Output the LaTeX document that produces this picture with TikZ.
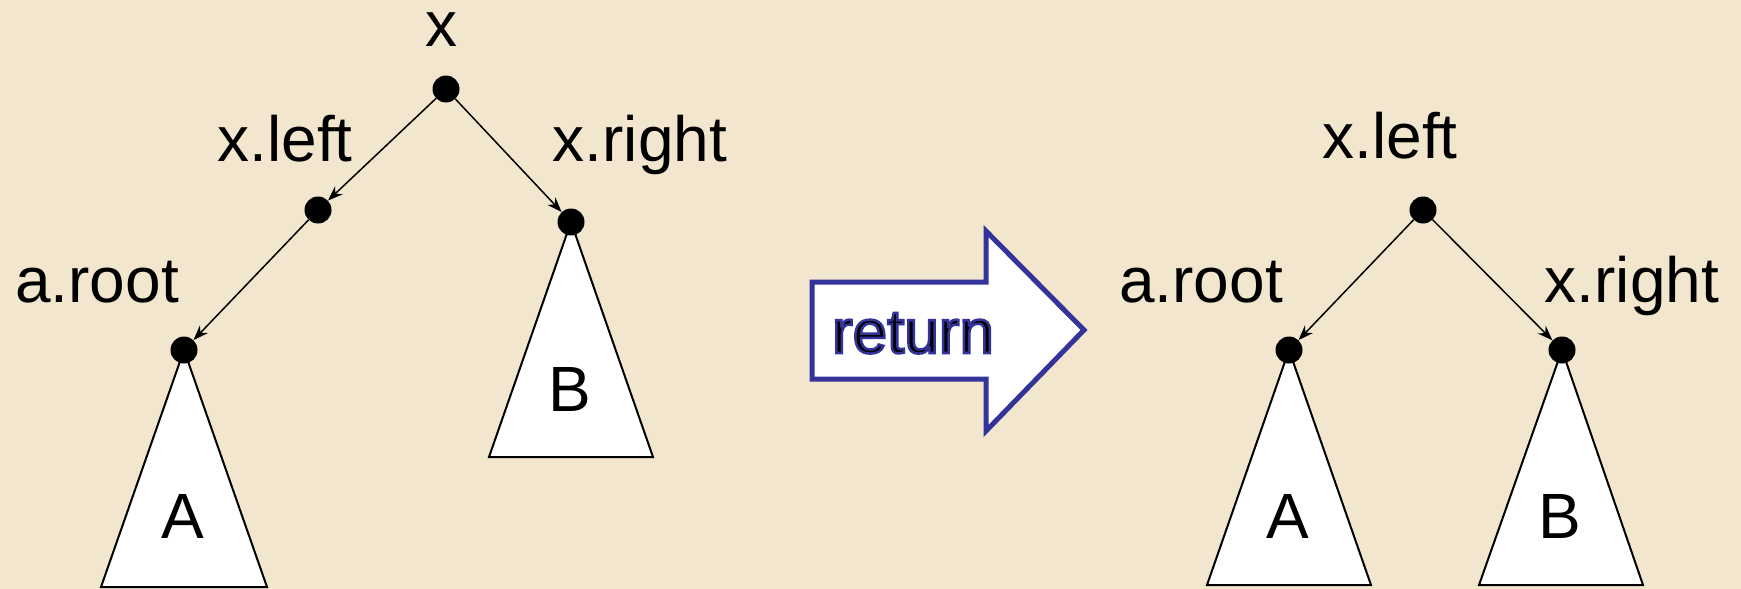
\documentclass[tikz,border=0pt]{standalone}
\usepackage{fontspec}
\setmainfont{Liberation Sans}
\usetikzlibrary{arrows.meta}
\definecolor{bg}{HTML}{F2E7CE}
\definecolor{arrowblue}{HTML}{333399}
\begin{document}
\begin{tikzpicture}[x=1pt,y=-1pt,
  dot/.style={circle,fill=black,draw=none,inner sep=0pt,minimum size=27pt},
  lbl/.style={anchor=base,inner sep=0pt,font=\fontsize{64}{70}\selectfont},
  tri/.style={fill=white,draw=black,line width=2pt,line join=miter},
  ptr/.style={-{Stealth[length=15pt,width=11pt]},line width=1.5pt}]
\fill[bg] (0,0) rectangle (1741,589);
\useasboundingbox (0,0) rectangle (1741,589);
% left tree triangles
\draw[tri] (184,350) -- (267,587) -- (101,587) -- cycle;
\draw[tri] (571,222) -- (653,457) -- (489,457) -- cycle;
% right tree triangles
\draw[tri] (1289,350) -- (1371,585) -- (1207,585) -- cycle;
\draw[tri] (1562,350) -- (1643,585) -- (1479,585) -- cycle;
% left tree dots
\node[dot] (r) at (446,89) {};
\node[dot] (xl) at (318,210) {};
\node[dot] (xr) at (571,222) {};
\node[dot] (ar) at (184,350) {};
% right tree dots
\node[dot] (r2) at (1423,210) {};
\node[dot] (ar2) at (1289,350) {};
\node[dot] (xr2) at (1562,350) {};
% connectors
\draw[ptr] (r) -- (xl);
\draw[ptr] (r) -- (xr);
\draw[ptr] (xl) -- (ar);
\draw[ptr] (r2) -- (ar2);
\draw[ptr] (r2) -- (xr2);
% labels left
\node[lbl] (tx) at (441,46) {x};
\node[lbl] (txl) at (285,161) {x.left};
\node[lbl] (txr) at (640,161) {x.right};
\node[lbl] (tar) at (97,302) {a.root};
\node[lbl] (tA) at (183,538) {A};
\node[lbl] (tB) at (570,411) {B};
% labels right
\node[lbl] (txl2) at (1390,158) {x.left};
\node[lbl] (tar2) at (1201,302) {a.root};
\node[lbl] (txr2) at (1632,302) {x.right};
\node[lbl] (tA2) at (1288,538) {A};
\node[lbl] (tB2) at (1560,538) {B};
% return arrow
\draw[fill=white,draw=arrowblue,line width=5pt,line join=miter]
  (812,282) -- (986,282) -- (986,231) -- (1084,330) -- (986,431) -- (986,379) -- (812,379) -- cycle;
\node[anchor=base,inner sep=0pt,font=\fontsize{62}{68}\selectfont,text=black] (ret) at (913,353)
  {\special{pdf:literal direct 2 Tr 0.2 0.2 0.6 RG 2.5 w}return\special{pdf:literal direct 0 Tr}};
\end{tikzpicture}
\end{document}
